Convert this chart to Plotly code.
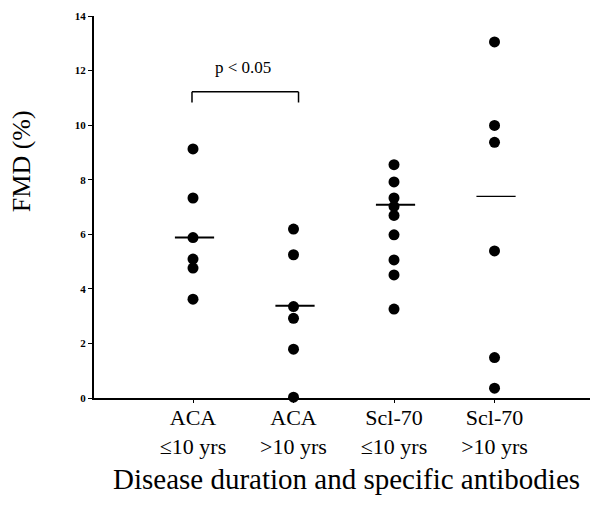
import plotly.graph_objects as go

categories = ["ACA<br>≤10 yrs", "ACA<br>>10 yrs", "Scl-70<br>≤10 yrs", "Scl-70<br>>10 yrs"]
aca_le10 = [9.13, 7.33, 5.88, 5.09, 4.76, 3.62]
aca_gt10 = [6.19, 5.25, 3.35, 2.92, 1.79, 0.03]
scl_le10 = [8.55, 7.92, 7.33, 7.02, 6.69, 5.98, 5.06, 4.51, 3.26]
scl_gt10 = [13.05, 9.99, 9.37, 5.39, 1.48, 0.36]
group_lines = [5.88, 3.38, 7.08, 7.39]
y_ticks = [0, 2, 4, 6, 8, 10, 12, 14]

groups = [aca_le10, aca_gt10, scl_le10, scl_gt10]
SERIF = "Liberation Serif, Times New Roman, serif"

fig = go.Figure()
for i, vals in enumerate(groups):
    fig.add_trace(go.Scatter(
        x=[i] * len(vals), y=vals, mode="markers",
        marker=dict(color="black", size=11, line=dict(width=0)),
        showlegend=False, cliponaxis=False))
line_w = [2, 2, 2, 1.3]
for i, m in enumerate(group_lines):
    fig.add_trace(go.Scatter(
        x=[i - 0.18, i + 0.21], y=[m, m], mode="lines",
        line=dict(color="black", width=line_w[i]),
        showlegend=False, cliponaxis=False))

# significance bracket
fig.add_shape(type="line", x0=-0.01, x1=-0.01, y0=10.83, y1=11.22, line=dict(color="black", width=1.5))
fig.add_shape(type="line", x0=-0.01, x1=1.05, y0=11.22, y1=11.22, line=dict(color="black", width=1.5))
fig.add_shape(type="line", x0=1.05, x1=1.05, y0=10.83, y1=11.22, line=dict(color="black", width=1.5))
fig.add_annotation(x=0.5, y=12.13, xref="x", yref="y", text="p < 0.05", showarrow=False,
                   font=dict(family=SERIF, size=17, color="black"))

fig.add_annotation(x=0, xref="paper", xshift=-73, xanchor="center", y=8.68, yref="y",
                   text="FMD (%)", textangle=-90, showarrow=False,
                   font=dict(family=SERIF, size=26, color="black"))
fig.add_annotation(x=0.51, xref="paper", y=-0.212, yref="paper", yanchor="middle",
                   xanchor="center",
                   text="Disease duration and specific antibodies", showarrow=False,
                   font=dict(family=SERIF, size=29, color="black"))

fig.update_xaxes(range=[-0.985, 3.95], tickvals=[0, 1, 2, 3], ticktext=categories,
                 showline=True, linecolor="black", linewidth=1.5, automargin=False,
                 ticks="outside", ticklen=3, tickcolor="black", showgrid=False, zeroline=False,
                 ticklabelstandoff=-4,
                 tickfont=dict(family=SERIF, size=22, color="black"))
fig.update_yaxes(range=[0, 14], tickvals=y_ticks, showline=True, linecolor="black", linewidth=2,
                 automargin=False,
                 ticks="outside", ticklen=4, tickcolor="black", showgrid=False, zeroline=False,
                 tickfont=dict(family=SERIF, size=11, color="black", weight="bold"))

fig.update_layout(width=590, height=505, margin=dict(l=94, r=0, t=16, b=107),
                  plot_bgcolor="white", paper_bgcolor="white")
fig.write_html("out.html", config={"displayModeBar": False},
               post_script="document.body.style.margin='0';")
